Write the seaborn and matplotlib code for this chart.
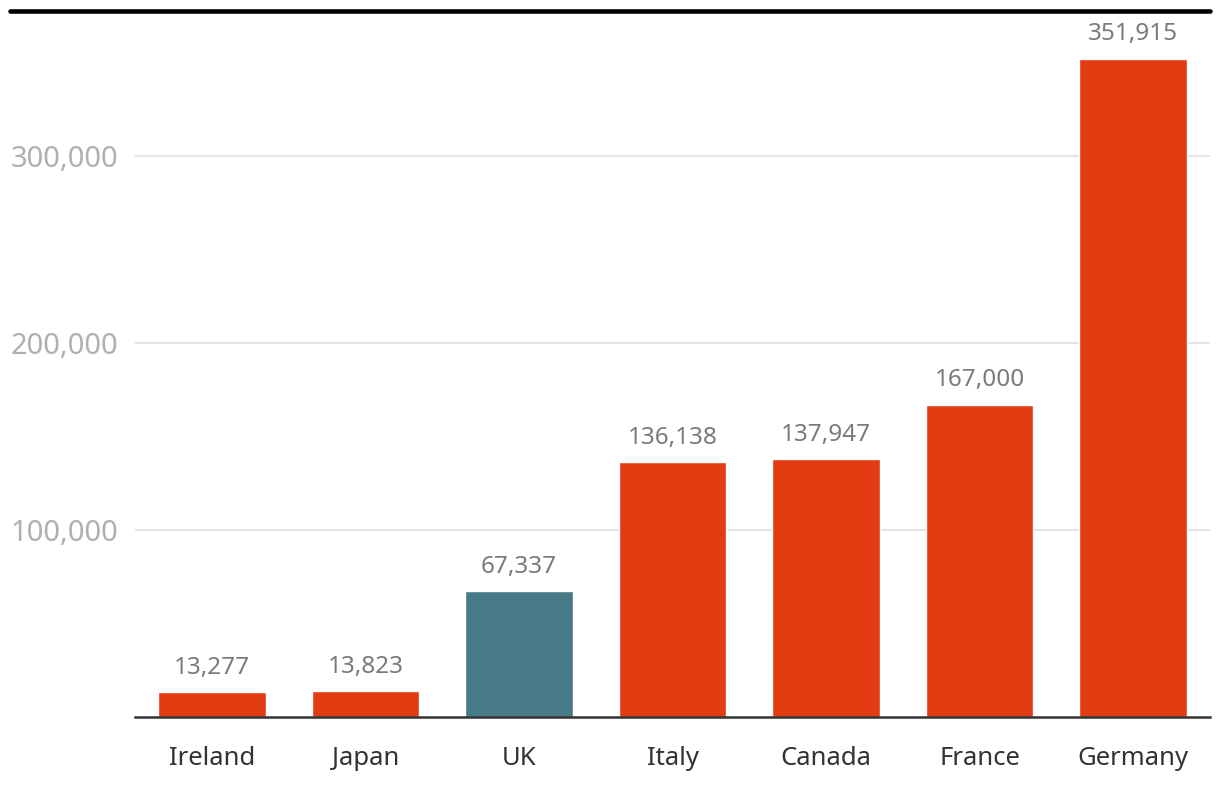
import matplotlib
matplotlib.use("Agg")
import matplotlib.pyplot as plt
from matplotlib.lines import Line2D
import seaborn as sns
import pandas as pd

countries = ["Ireland", "Japan", "UK", "Italy", "Canada", "France", "Germany"]
values = [13277, 13823, 67337, 136138, 137947, 167000, 351915]
highlight = ["other", "other", "UK", "other", "other", "other", "other"]
yticks = [100000, 200000, 300000]

df = pd.DataFrame({"country": countries, "value": values, "group": highlight})

sns.set_theme(style="white")
plt.rcParams["font.family"] = ["Noto Sans", "DejaVu Sans"]

fig = plt.figure(figsize=(12.2, 7.92), dpi=100)
ax = fig.add_axes([135 / 1220, 75 / 792, 1075 / 1220, 706 / 792])

palette = {"other": "#E33B12", "UK": "#467A86"}
sns.barplot(data=df, x="country", y="value", hue="group", palette=palette,
            dodge=False, width=0.7, legend=False, ax=ax, saturation=1)

for c in ax.containers:
    ax.bar_label(c, labels=[f"{v:,.0f}" if v == v else "" for v in c.datavalues],
                 padding=9, fontsize=17.5, color="#7a7a7a")

ax.set_xlim(-0.5, 6.5)
ax.set_ylim(0, 706 / 187 * 100000)
ax.set_yticks(yticks)
ax.set_yticklabels([f"{v:,}" for v in yticks])
ax.tick_params(axis="y", length=0, pad=12, labelsize=21, labelcolor="#b0b0b0")
ax.tick_params(axis="x", length=8, width=1.5, color="#333333", pad=13,
               labelsize=18.5, labelcolor="#333333")
ax.grid(axis="y", color="#e2e2e2", linewidth=1.3)
ax.set_axisbelow(True)
ax.set_xlabel("")
ax.set_ylabel("")
for s in ["top", "right", "left"]:
    ax.spines[s].set_visible(False)
ax.spines["bottom"].set_color("#333333")
ax.spines["bottom"].set_linewidth(1.8)

fig.add_artist(Line2D([10 / 1220, 1210 / 1220], [1 - 11 / 792, 1 - 11 / 792],
                      transform=fig.transFigure, color="black", linewidth=3.3))

fig.savefig("out.png", dpi=100, facecolor="white")
